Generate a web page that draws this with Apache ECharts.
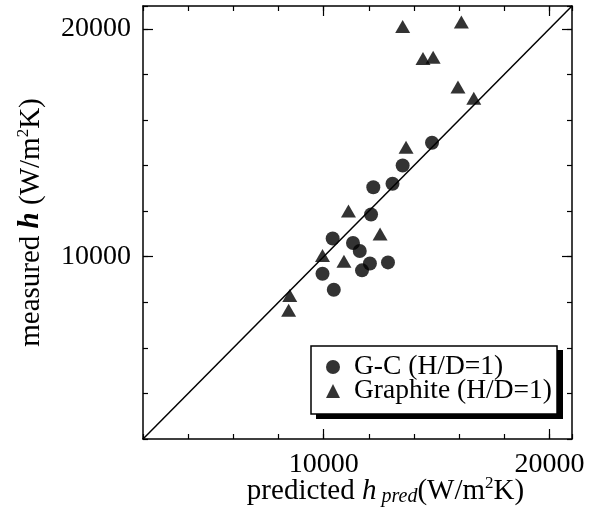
<!DOCTYPE html>
<html>
<head>
<meta charset="utf-8">
<script src="https://cdn.jsdelivr.net/npm/echarts@6/dist/echarts.min.js"></script>
<style>
html, body { margin: 0; padding: 0; background: #fff; }
#chart { width: 594px; height: 510px; }
</style>
</head>
<body>
<div id="chart"></div>
<script>
// G-C (H/D=1): predicted vs measured h
var gcPred = [14800, 13500, 13050, 12200, 12100, 10400, 11300, 11600, 12050, 11700, 12850, 9950, 10450];
var gcMeas = [15000, 14000, 13200, 13050, 11850, 10800, 10600, 10250, 9700, 9400, 9750, 9250, 8550];
// Graphite (H/D=1)
var grPred = [13500, 16100, 14400, 14850, 15950, 16650, 13650, 11100, 12500, 9950, 10900, 8500, 8450];
var grMeas = [20100, 20300, 18700, 18750, 17450, 16950, 14800, 12000, 11000, 10050, 9800, 8300, 7650];
// y = x reference line ends
var diagonal = [2000, 21000];
var majorTicks = [10000, 20000];
var legendNames = ['G-C (H/D=1)', 'Graphite (H/D=1)'];

var serif = 'Liberation Serif';
var AXMIN = 2000, AXMAX = 21000;

function pairs(xs, ys) {
	return xs.map(function(x, i) { return [x, ys[i]]; });
}

function makeAxis(pos, opts) {
	var a = {
		type: 'value',
		position: pos,
		min: AXMIN,
		max: AXMAX,
		interval: 2000,
		splitLine: { show: false },
		axisLine: { show: true, onZero: false, lineStyle: { color: '#000', width: 1.5 } },
		axisTick: { show: true, inside: true, length: 5, lineStyle: { color: '#000', width: 1.2 } },
		axisLabel: { show: false }
	};
	for (var k in opts) a[k] = opts[k];
	return a;
}

// longer ticks at 10000 / 20000
function majorAxis(pos) {
	return {
		type: 'value',
		position: pos,
		min: AXMIN,
		max: AXMAX,
		splitLine: { show: false },
		axisLine: { show: false, onZero: false },
		axisTick: { show: true, inside: true, length: 10, customValues: majorTicks, lineStyle: { color: '#000', width: 1.2 } },
		axisLabel: { show: false }
	};
}

var labelStyle = {
	show: true,
	margin: 12,
	color: '#000',
	fontFamily: serif,
	fontSize: 28,
	formatter: function(v) { return majorTicks.indexOf(v) >= 0 ? String(v) : ''; }
};

var nameRich = {
	n: { fontFamily: serif, fontSize: 29, color: '#000', lineHeight: 32 },
	i: { fontFamily: serif, fontSize: 29, color: '#000', fontStyle: 'italic', lineHeight: 32 },
	bi: { fontFamily: serif, fontSize: 29, color: '#000', fontStyle: 'italic', fontWeight: 'bold', lineHeight: 32 },
	sup: { fontFamily: serif, fontSize: 17, color: '#000', lineHeight: 17, verticalAlign: 'top' },
	sub: { fontFamily: serif, fontSize: 20, color: '#000', fontStyle: 'italic', lineHeight: 20, verticalAlign: 'bottom' }
};

var myChart = echarts.init(document.getElementById('chart'));
var option = {
	backgroundColor: '#fff',
	animation: false,
	grid: { left: 143, right: 22, top: 6, bottom: 71, outerBoundsMode: 'none' },
	xAxis: [
		makeAxis('bottom', {
			axisLabel: labelStyle,
			name: '{n|predicted }{i|h}{sub| pred}{n|(W/m}{sup|2}{n|K)}',
			nameLocation: 'middle',
			nameGap: 36,
			nameMoveOverlap: false,
			nameTextStyle: { rich: nameRich, padding: [0, 0, 0, 56] }
		}),
		makeAxis('top', {}),
		majorAxis('bottom'),
		majorAxis('top')
	],
	yAxis: [
		makeAxis('left', {
			axisLabel: labelStyle,
			name: '{n|measured }{bi|h}{n| (W/m}{sup|2}{n|K)}',
			nameLocation: 'middle',
			nameRotate: 90,
			nameGap: 96,
			nameMoveOverlap: false,
			nameTextStyle: { rich: nameRich }
		}),
		makeAxis('right', {}),
		majorAxis('left'),
		majorAxis('right')
	],
	// drop shadow behind the legend box
	graphic: [{
		type: 'rect',
		left: 316,
		top: 350,
		shape: { width: 247, height: 69 },
		style: { fill: '#000' },
		z: 3
	}],
	legend: {
		orient: 'vertical',
		left: 311,
		top: 346,
		padding: [7, 5, 9, 15],
		itemGap: -4,
		itemWidth: 14,
		itemHeight: 14,
		backgroundColor: '#fff',
		borderColor: '#000',
		borderWidth: 1.5,
		borderRadius: 0,
		z: 5,
		textStyle: { fontFamily: serif, fontSize: 27.5, color: '#000', padding: [0, 0, 0, 9] },
		data: [
			{ name: legendNames[0], icon: 'circle' },
			{ name: legendNames[1], icon: 'triangle' }
		]
	},
	series: [
		{
			name: 'diagonal',
			type: 'line',
			data: [[diagonal[0], diagonal[0]], [diagonal[1], diagonal[1]]],
			symbol: 'none',
			lineStyle: { color: '#000', width: 1.5 },
			z: 1
		},
		{
			name: legendNames[0],
			type: 'scatter',
			symbol: 'circle',
			symbolSize: 14,
			itemStyle: { color: '#000' },
			data: pairs(gcPred, gcMeas),
			z: 3
		},
		{
			name: legendNames[1],
			type: 'scatter',
			symbol: 'triangle',
			symbolSize: [15, 13],
			itemStyle: { color: '#000' },
			data: pairs(grPred, grMeas),
			z: 3
		}
	]
};
myChart.setOption(option);
</script>
</body>
</html>
